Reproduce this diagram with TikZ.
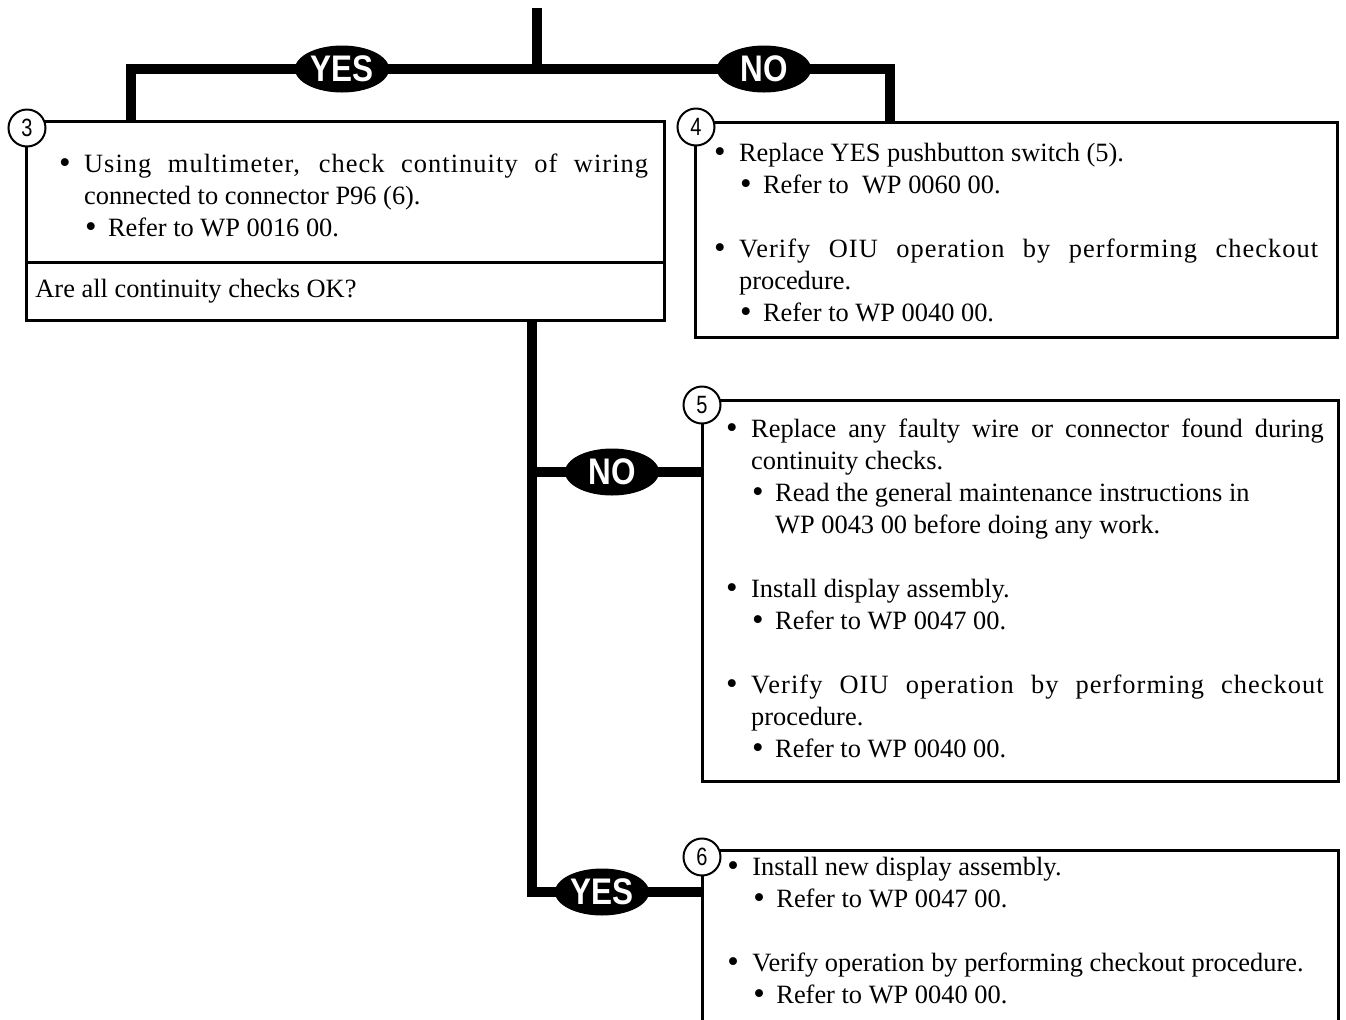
\documentclass[tikz,border=0pt]{standalone}
\usepackage{fontspec}
\setmainfont{Liberation Serif}
\setsansfont{Liberation Sans}
\usepackage{graphicx}
\usetikzlibrary{shapes.geometric}

\newcommand{\stepbullet}{\strut\hspace*{-2.5pt}\raisebox{-0.04em}{\scalebox{1.25}{\textbullet}}}
\newcommand{\stepitem}[1]{\par\noindent\hangindent=10pt\hangafter=1\makebox[10pt][l]{\stepbullet}#1}
\newcommand{\substepitem}[1]{\par\noindent\hangindent=22pt\hangafter=1\hspace*{13pt}\makebox[9pt][l]{\stepbullet}#1}
\newcommand{\stepgap}{\par\vspace{16pt}}
\newcommand{\spacedline}[1]{{\addfontfeature{LetterSpace=4}#1}}

\tikzset{
  flowline/.style={line width=5pt},
  stepbox/.style={draw, rectangle, line width=1.5pt, inner sep=0pt},
  answer/.style={ellipse, fill=black, text=white, inner sep=0pt, outer sep=-1.5pt,
    minimum width=47pt, minimum height=23.5pt,
    font=\sffamily\bfseries\fontsize{18.5}{18.5}\selectfont},
  stepnum/.style={circle, draw, fill=white, line width=1pt, minimum size=18.5pt,
    inner sep=0pt, font=\sffamily\fontsize{12.5}{12.5}\selectfont},
  steptext/.style={anchor=north west, inner sep=0pt, align=justify,
    font=\fontsize{13.2}{16}\selectfont,
    execute at begin node={\hyphenpenalty=10000\tolerance=9999}},
}

\begin{document}
\begin{tikzpicture}[x=0.5pt, y=-0.5pt]
        \useasboundingbox (0,0) rectangle (1346,1019);

        % Cajas de los pasos
        \node[stepbox, minimum width=319pt, minimum height=99.5pt] (box3) at (345,220.5) {};
        \node[stepbox, minimum width=321pt, minimum height=107.5pt] (box4) at (1016,229.5) {};
        \node[stepbox, minimum width=318pt, minimum height=190.5pt] (box5) at (1020,590.5) {};
        \node[stepbox, minimum width=318pt, minimum height=97.5pt] (box6) at (1020,947.5) {};
        \draw[line width=1.5pt] (26,262) -- (666,262);

        % Números de paso
        \node[stepnum] (n3) at (27,128) {\scalebox{0.8}[1]{3}};
        \node[stepnum] (n4) at (696,127) {\scalebox{0.8}[1]{4}};
        \node[stepnum] (n5) at (702,405) {\scalebox{0.8}[1]{5}};
        \node[stepnum] (n6) at (702,857) {\scalebox{0.8}[1]{6}};

        % Respuestas
        \node[answer] (yes1) at (342,69) {\scalebox{0.85}[1]{YES}};
        \node[answer] (no1) at (764,69) {\scalebox{0.85}[1]{NO}};
        \node[answer] (no2) at (612,472) {\scalebox{0.85}[1]{NO}};
        \node[answer] (yes2) at (602,892) {\scalebox{0.85}[1]{YES}};

        % Líneas de flujo
        \coordinate (start) at (537,8);
        \coordinate (split) at (537,69);
        \coordinate (b3in) at (131,121);
        \coordinate (b4in) at (889.5,122);
        \coordinate (trunktop) at (531.5,320);
        \coordinate (trunkno) at (531.5,472);
        \coordinate (trunkend) at (531.5,892);
        \draw[flowline] (start) -- (split);
        \draw[flowline] (b3in) |- (yes1);
        \draw[flowline] (yes1) -- (no1);
        \draw[flowline] (no1) -| (b4in);
        \draw[flowline] (trunktop) -- (trunkend) -- (yes2);
        \draw[flowline] (trunkno) -- (no2);
        \draw[flowline] (no2) -- (no2 -| box5.west);
        \draw[flowline] (yes2) -- (yes2 -| box6.west);

        % Paso 3
        \node[steptext, text width=292pt] (text3) at (63.7,139.6) {%
          \stepitem{\spacedline{Using multimeter, check continuity of wiring}\linebreak connected to connector P96 (6).}
          \substepitem{Refer to WP 0016 00.}};
        \node[anchor=base west, inner sep=0pt, font=\fontsize{13.2}{16}\selectfont] (ask3) at (35,297.5) {Are all continuity checks OK?};

        % Paso 4
        \node[steptext, text width=299.6pt] (text4) at (718.7,129) {%
          \stepitem{Replace YES pushbutton switch (5).}
          \substepitem{Refer to\ \ WP 0060 00.}
          \stepgap
          \stepitem{\spacedline{Verify OIU operation by performing checkout}\linebreak procedure.}
          \substepitem{Refer to WP 0040 00.}};

        % Paso 5
        \node[steptext, text width=296.3pt] (text5) at (730.8,405) {%
          \stepitem{Replace any faulty wire or connector found during\linebreak continuity checks.}
          \substepitem{Read the general maintenance instructions in\\ WP 0043 00 before doing any work.}
          \stepgap
          \stepitem{Install display assembly.}
          \substepitem{Refer to WP 0047 00.}
          \stepgap
          \stepitem{\spacedline{Verify OIU operation by performing checkout}\linebreak procedure.}
          \substepitem{Refer to WP 0040 00.}};

        % Paso 6
        \node[steptext, text width=296pt] (text6) at (732,843.5) {%
          \stepitem{Install new display assembly.}
          \substepitem{Refer to WP 0047 00.}
          \stepgap
          \stepitem{Verify operation by performing checkout procedure.}
          \substepitem{Refer to WP 0040 00.}};

    \end{tikzpicture}
\end{document}
